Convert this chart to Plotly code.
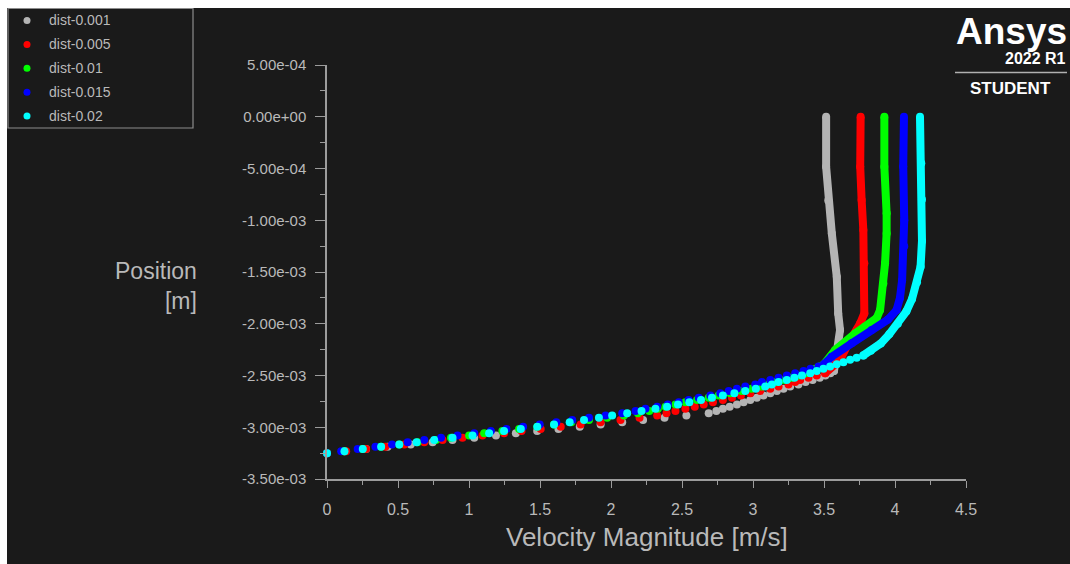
import plotly.graph_objects as go

# ---------------------------------------------------------------------------
# Data: velocity profiles at five streamwise stations (position in mm)
# ---------------------------------------------------------------------------
SERIES_NAMES = ["dist-0.001", "dist-0.005", "dist-0.01", "dist-0.015", "dist-0.02"]
SERIES_COLORS = ["#b4b4b4", "#ff0000", "#00ff00", "#0000ff", "#00ffff"]

# Near-wall sample heights (mm), shared by every profile
Y_LEVELS_MM = [
    -3.252, -3.231, -3.209, -3.188, -3.166, -3.145, -3.123, -3.102, -3.080, -3.059,
    -3.037, -3.016, -2.994, -2.973, -2.951, -2.930, -2.908, -2.887, -2.865, -2.844,
    -2.822, -2.801, -2.779, -2.758, -2.736, -2.715, -2.693, -2.672, -2.650, -2.629,
    -2.607, -2.586, -2.564, -2.543, -2.521, -2.500, -2.478, -2.457, -2.435, -2.414,
    -2.392, -2.371, -2.349, -2.328, -2.306,
]

# Velocity magnitude (m/s) at the near-wall sample heights
V_WALL_0001 = [0.0, 0.123, 0.275, 0.427, 0.590, 0.744, 0.884, 1.037, 1.19, 1.33,
               1.48, 1.63, 1.78, 1.927, 2.079, 2.226, 2.377, 2.531, 2.688, 2.742,
               2.788, 2.836, 2.887, 2.934, 2.981, 3.027, 3.074, 3.122, 3.168, 3.215,
               3.262, 3.320, 3.37, 3.42, 3.47, 3.51, 3.545, 3.57]
V_WALL_0005 = [0.0, 0.135, 0.275, 0.411, 0.545, 0.685, 0.814, 0.954, 1.095, 1.247,
               1.37, 1.505, 1.646, 1.786, 1.927, 2.067, 2.201, 2.325, 2.391, 2.454,
               2.524, 2.590, 2.653, 2.718, 2.788, 2.852, 2.915, 2.981, 3.051, 3.122,
               3.180, 3.250, 3.297, 3.332, 3.391, 3.449, 3.508]
V_WALL_001 = [0.0, 0.12, 0.25, 0.38, 0.509, 0.638, 0.767, 0.873, 1.001, 1.107,
              1.235, 1.353, 1.481, 1.599, 1.72, 1.845, 1.973, 2.091, 2.19, 2.27,
              2.33, 2.384, 2.454, 2.524, 2.606, 2.688, 2.758, 2.84, 2.92, 2.99,
              3.06, 3.11, 3.16, 3.22, 3.27, 3.32, 3.37, 3.41, 3.44, 3.47, 3.50]
V_WALL_0015 = [0.0, 0.100, 0.216, 0.341, 0.458, 0.568, 0.685, 0.803, 0.919, 1.037,
               1.154, 1.264, 1.381, 1.498, 1.615, 1.727, 1.845, 1.962, 2.079, 2.173,
               2.243, 2.325, 2.40, 2.477, 2.547, 2.618, 2.700, 2.770, 2.829, 2.887,
               2.946, 3.016, 3.063, 3.122, 3.180, 3.238, 3.297, 3.356, 3.405, 3.461,
               3.50]
V_WALL_002 = [0.0, 0.123, 0.252, 0.381, 0.509, 0.631, 0.755, 0.884, 1.025, 1.142,
              1.247, 1.365, 1.481, 1.599, 1.709, 1.810, 1.915, 2.008, 2.114, 2.215,
              2.313, 2.395, 2.472, 2.552, 2.634, 2.711, 2.788, 2.869, 2.946, 3.020,
              3.086, 3.133, 3.180, 3.238, 3.292, 3.345, 3.403, 3.449, 3.496, 3.543,
              3.590, 3.637, 3.684, 3.730, 3.777]

# Outer (core) part of each profile, where samples merge into a solid trace
V_CORE_0001 = [3.57, 3.60, 3.613, 3.60, 3.59, 3.555, 3.53, 3.515, 3.515]
Y_CORE_0001 = [-2.457, -2.222, -2.061, -1.90, -1.546, -1.127, -0.81, -0.483, 0.0]
V_CORE_0005 = [3.508, 3.613, 3.672, 3.730, 3.755, 3.784, 3.784, 3.777, 3.765, 3.755, 3.758]
Y_CORE_0005 = [-2.478, -2.351, -2.189, -2.061, -1.996, -1.900, -1.416, -1.095, -0.805, -0.483, 0.0]
V_CORE_001 = [3.50, 3.578, 3.719, 3.789, 3.871, 3.895, 3.918, 3.930, 3.941, 3.941, 3.925, 3.925]
Y_CORE_001 = [-2.392, -2.254, -2.093, -2.029, -1.945, -1.868, -1.610, -1.416, -1.127, -0.933, -0.483, 0.0]
V_CORE_0015 = [3.50, 3.554, 3.695, 3.836, 3.95, 4.011, 4.035, 4.05, 4.065, 4.065, 4.058, 4.063]
Y_CORE_0015 = [-2.392, -2.319, -2.189, -2.061, -1.96, -1.868, -1.75, -1.58, -1.25, -1.0, -0.48, 0.0]
V_CORE_002 = [3.777, 3.83, 3.90, 3.96, 4.02, 4.08, 4.12, 4.155, 4.180, 4.190, 4.190, 4.185, 4.176]
Y_CORE_002 = [-2.306, -2.26, -2.19, -2.10, -2.00, -1.88, -1.76, -1.60, -1.45, -1.20, -0.80, -0.45, 0.0]

WALL_V = [V_WALL_0001, V_WALL_0005, V_WALL_001, V_WALL_0015, V_WALL_002]
CORE_V = [V_CORE_0001, V_CORE_0005, V_CORE_001, V_CORE_0015, V_CORE_002]
CORE_Y = [Y_CORE_0001, Y_CORE_0005, Y_CORE_001, Y_CORE_0015, Y_CORE_002]

# Axis ticks
Y_TICKS = [5e-4, 0.0, -5e-4, -1e-3, -1.5e-3, -2e-3, -2.5e-3, -3e-3, -3.5e-3]
Y_TICK_TEXT = ["5.00e-04", "0.00e+00", "-5.00e-04", "-1.00e-03", "-1.50e-03",
               "-2.00e-03", "-2.50e-03", "-3.00e-03", "-3.50e-03"]
X_TICKS = [0, 0.5, 1, 1.5, 2, 2.5, 3, 3.5, 4, 4.5]
X_TICK_TEXT = ["0", "0.5", "1", "1.5", "2", "2.5", "3", "3.5", "4", "4.5"]

# ---------------------------------------------------------------------------
# Layout geometry helpers (pixel -> paper coordinates)
# ---------------------------------------------------------------------------
W, H = 1070, 564
ML, MR, MT, MB = 327, 104, 65, 85
PW, PH = W - ML - MR, H - MT - MB


def px_x(x):
    return (x - ML) / PW


def px_y(y):
    return (H - MB - y) / PH


BG = "#1a1a1a"
AXIS_COLOR = "#9c9c9c"
TEXT_COLOR = "#b9b9b9"
MARK = 8

fig = go.Figure()

for name, color, vw, vc, yc in zip(SERIES_NAMES, SERIES_COLORS, WALL_V, CORE_V, CORE_Y):
    fig.add_trace(go.Scatter(
        x=vc, y=[v * 1e-3 for v in yc], mode="lines+markers",
        line=dict(color=color, width=MARK),
        marker=dict(color=color, size=MARK),
        cliponaxis=False, showlegend=False, hoverinfo="skip",
    ))
    fig.add_trace(go.Scatter(
        x=vw, y=[v * 1e-3 for v in Y_LEVELS_MM[:len(vw)]], mode="markers",
        marker=dict(color=color, size=MARK),
        cliponaxis=False, name=name, showlegend=False,
    ))

shapes = []
annotations = []

# white frame strips along the left and top edges
shapes.append(dict(type="rect", xref="paper", yref="paper",
                   x0=px_x(-2), x1=px_x(7), y0=px_y(H + 2), y1=px_y(-2),
                   fillcolor="white", line=dict(width=0), layer="above"))
shapes.append(dict(type="rect", xref="paper", yref="paper",
                   x0=px_x(-2), x1=px_x(W + 2), y0=px_y(8), y1=px_y(-2),
                   fillcolor="white", line=dict(width=0), layer="above"))

# legend box
shapes.append(dict(type="rect", xref="paper", yref="paper",
                   x0=px_x(8), x1=px_x(193), y0=px_y(128), y1=px_y(8.5),
                   fillcolor=BG, line=dict(color="#8c8c8c", width=1.2), layer="above"))
for i, (name, color) in enumerate(zip(SERIES_NAMES, SERIES_COLORS)):
    cy = 20.5 + 23.9 * i
    shapes.append(dict(type="circle", xref="paper", yref="paper",
                       xsizemode="pixel", ysizemode="pixel",
                       xanchor=px_x(27), yanchor=px_y(cy),
                       x0=-3.5, x1=3.5, y0=-3.5, y1=3.5,
                       fillcolor=color, line=dict(width=0), layer="above"))
    annotations.append(dict(xref="paper", yref="paper", x=px_x(47), y=px_y(cy),
                            text=name, showarrow=False, xanchor="left", yanchor="middle",
                            font=dict(family="Liberation Sans, Arial", size=14, color=TEXT_COLOR)))

# axis titles
annotations.append(dict(xref="paper", yref="paper", x=px_x(199), y=px_y(286),
                        text="Position<br>[m]", showarrow=False, xanchor="right",
                        yanchor="middle", align="right",
                        font=dict(family="Liberation Sans, Arial", size=23, color=TEXT_COLOR)))
annotations.append(dict(xref="paper", yref="paper", x=px_x(647), y=px_y(537),
                        text="Velocity Magnitude [m/s]", showarrow=False, xanchor="center",
                        yanchor="middle",
                        font=dict(family="Liberation Sans Narrow, Arial Narrow, Liberation Sans",
                                  size=26, color=TEXT_COLOR)))

# product badge
annotations.append(dict(xref="paper", yref="paper", x=px_x(1069), y=px_y(31),
                        text="<b>Ansys</b>", showarrow=False, xanchor="right", yanchor="middle",
                        font=dict(family="Liberation Sans, Arial", size=37, color="white")))
annotations.append(dict(xref="paper", yref="paper", x=px_x(1068), y=px_y(59),
                        text="<b>2022 R1</b>", showarrow=False, xanchor="right", yanchor="middle",
                        font=dict(family="Liberation Sans, Arial", size=16, color="white")))
shapes.append(dict(type="line", xref="paper", yref="paper",
                   x0=px_x(955), x1=px_x(1067), y0=px_y(72.5), y1=px_y(72.5),
                   line=dict(color="#b0b0b0", width=1.5), layer="above"))
annotations.append(dict(xref="paper", yref="paper", x=px_x(1011), y=px_y(88),
                        text="<b>STUDENT</b>", showarrow=False, xanchor="center", yanchor="middle",
                        font=dict(family="Liberation Sans, Arial", size=17, color="white")))

fig.update_layout(
    width=W, height=H,
    margin=dict(l=ML, r=MR, t=MT, b=MB, pad=0),
    paper_bgcolor=BG, plot_bgcolor=BG,
    showlegend=False,
    shapes=shapes, annotations=annotations,
    xaxis=dict(
        range=[0, 4.5], tickmode="array", tickvals=X_TICKS, ticktext=X_TICK_TEXT,
        showgrid=False, zeroline=False, showline=True, linecolor=AXIS_COLOR, linewidth=1.5,
        ticks="outside", ticklen=7, tickcolor=AXIS_COLOR, tickwidth=1.2,
        minor=dict(dtick=0.25, tick0=0, ticks="outside", ticklen=4,
                   tickcolor=AXIS_COLOR, showgrid=False),
        tickfont=dict(family="Liberation Sans Narrow, Arial Narrow, Liberation Sans",
                      size=16, color=TEXT_COLOR),
        ticklabelstandoff=8,
    ),
    yaxis=dict(
        range=[-3.5e-3, 5e-4], tickmode="array", tickvals=Y_TICKS, ticktext=Y_TICK_TEXT,
        showgrid=False, zeroline=False, showline=True, linecolor=AXIS_COLOR, linewidth=1.5,
        ticks="outside", ticklen=10, tickcolor=AXIS_COLOR, tickwidth=1.2,
        minor=dict(dtick=0.25e-3, tick0=0, ticks="outside", ticklen=5,
                   tickcolor=AXIS_COLOR, showgrid=False),
        tickfont=dict(family="Liberation Sans, Arial", size=15, color=TEXT_COLOR),
        ticklabelstandoff=6,
    ),
)

fig.write_html("out.html")
